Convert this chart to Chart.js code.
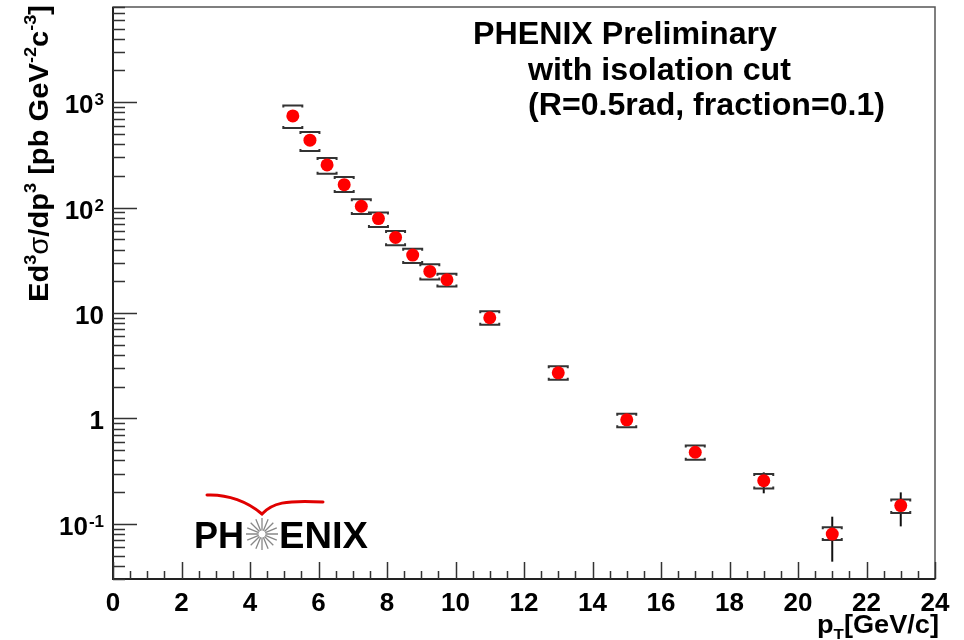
<!DOCTYPE html>
<html>
<head>
<meta charset="utf-8">
<script src="https://cdn.jsdelivr.net/npm/chart.js@4.4.0/dist/chart.umd.min.js"></script>
<style>
    html, body { margin: 0; padding: 0; background: #fff; }
    canvas { display: block; }
</style>
</head>
<body>
<canvas id="spectrum" width="964" height="640"></canvas>
<script>
// isolated photon spectrum, pT bin centres [GeV/c]
const ptCenters = [5.25, 5.75, 6.25, 6.75, 7.25, 7.75, 8.25, 8.75, 9.25, 9.75, 11, 13, 15, 17, 19, 21, 23];
// Ed3sigma/dp3 [pb GeV^-2 c^-3]
const crossSection = [741, 436, 254, 165, 103, 78.7, 52.2, 35.5, 24.8, 20.7, 9.02, 2.71, 0.970, 0.478, 0.257, 0.080, 0.149];
// systematic band (bracket caps)
const sysUpper = [931, 522, 296, 195, 120, 89.7, 60.0, 40.8, 29.0, 23.6, 10.4, 3.13, 1.106, 0.553, 0.298, 0.0927, 0.170];
const sysLower = [570, 345, 210, 141, 87, 65.5, 43.9, 29.8, 20.8, 17.9, 7.74, 2.33, 0.825, 0.405, 0.217, 0.0703, 0.127];
// statistical errors (vertical lines)
const statUpper = [800, 470, 270, 176, 110, 84, 56, 38, 26.8, 22.3, 9.7, 2.95, 1.06, 0.53, 0.308, 0.117, 0.199];
const statLower = [685, 405, 238, 154, 96, 73.5, 48.5, 33, 22.9, 19.2, 8.35, 2.48, 0.88, 0.43, 0.195, 0.0438, 0.0947];

const xTickValues = [0, 2, 4, 6, 8, 10, 12, 14, 16, 18, 20, 22, 24];
const yTickValues = [0.1, 1, 10, 100, 1000];
const yTickLabels = ['10^-1', '1', '10', '10^2', '10^3'];

const FONT = '"Liberation Sans", Arial, sans-serif';

function fontFor(part, size) {
    const sz = (part.sup || part.sub) ? size * 0.62 : size;
    return (part.normal ? '' : 'bold ') + sz.toFixed(1) + 'px ' + FONT;
}

// draws text made of parts (sup/sub aware); stretched to fit width if given
function drawRich(ctx, parts, x, y, size, width, align) {
    let natural = 0;
    parts.forEach(p => { ctx.font = fontFor(p, size); natural += ctx.measureText(p.t).width; });
    const sx = width ? width / natural : 1;
    ctx.save();
    ctx.translate(x, y);
    ctx.scale(sx, 1);
    let cx = align === 'right' ? -natural : align === 'center' ? -natural / 2 : 0;
    ctx.textAlign = 'left';
    ctx.textBaseline = 'alphabetic';
    parts.forEach(p => {
        ctx.font = fontFor(p, size);
        const dy = p.sup ? -size * 0.42 : p.sub ? size * 0.25 : 0;
        ctx.fillText(p.t, cx, dy);
        cx += ctx.measureText(p.t).width;
    });
    ctx.restore();
}

function labelParts(s) {
    const bits = s.split('^');
    return bits.length > 1 ? [{ t: bits[0] }, { t: bits[1], sup: true }] : [{ t: s }];
}

const errorBars = {
    id: 'errorBars',
    beforeDatasetsDraw(chart) {
        const { ctx, scales: { x, y } } = chart;
        ctx.save();
        ctx.lineWidth = 2;
        ptCenters.forEach((pt, i) => {
            const px = x.getPixelForValue(pt);
            // stat
            ctx.strokeStyle = '#111';
            ctx.beginPath();
            ctx.moveTo(px, y.getPixelForValue(statLower[i]));
            ctx.lineTo(px, y.getPixelForValue(statUpper[i]));
            ctx.stroke();
            // sys brackets
            ctx.strokeStyle = '#333';
            const hw = 9.5;
            const top = y.getPixelForValue(sysUpper[i]);
            const bot = y.getPixelForValue(sysLower[i]);
            ctx.beginPath();
            ctx.moveTo(px - hw, top + 2); ctx.lineTo(px - hw, top); ctx.lineTo(px + hw, top); ctx.lineTo(px + hw, top + 2);
            ctx.moveTo(px - hw, bot - 2); ctx.lineTo(px - hw, bot); ctx.lineTo(px + hw, bot); ctx.lineTo(px + hw, bot - 2);
            ctx.stroke();
        });
        ctx.restore();
    }
};

const rootFrame = {
    id: 'rootFrame',
    afterDraw(chart) {
        const { ctx, chartArea: a, scales: { x, y } } = chart;
        ctx.save();

        // frame
        ctx.strokeStyle = '#555';
        ctx.lineWidth = 1.5;
        ctx.strokeRect(a.left, a.top, a.right - a.left, a.bottom - a.top);
        ctx.strokeStyle = '#222';
        ctx.lineWidth = 2;
        ctx.beginPath();
        ctx.moveTo(a.left, a.top); ctx.lineTo(a.left, a.bottom); ctx.lineTo(a.right, a.bottom);
        ctx.stroke();

        // x ticks (inward)
        ctx.strokeStyle = '#333';
        ctx.lineWidth = 1.5;
        ctx.beginPath();
        for (let v = x.min; v <= x.max + 1e-9; v += 0.5) {
            const px = Math.round(x.getPixelForValue(v)) + 0.5;
            const len = Math.abs(v % 2) < 1e-9 ? 17 : 8;
            ctx.moveTo(px, a.bottom); ctx.lineTo(px, a.bottom - len);
        }
        // y ticks (inward)
        for (let d = -2; d <= 3; d++) {
            for (let m = 1; m <= 9; m++) {
                const v = m * Math.pow(10, d);
                if (v < y.min || v > y.max) continue;
                const py = Math.round(y.getPixelForValue(v)) + 0.5;
                const len = m === 1 ? 24 : 12;
                ctx.moveTo(a.left, py); ctx.lineTo(a.left + len, py);
            }
        }
        ctx.stroke();

        // tick labels
        ctx.fillStyle = '#000';
        xTickValues.forEach(v => {
            drawRich(ctx, [{ t: String(v) }], x.getPixelForValue(v), 611, 26, 0, 'center');
        });
        yTickValues.forEach((v, i) => {
            const parts = labelParts(yTickLabels[i]);
            const py = y.getPixelForValue(v);
            ctx.font = 'bold 17px ' + FONT;
            if (parts.length > 1) {
                const wSup = ctx.measureText(parts[1].t).width;
                drawRich(ctx, [parts[0]], 104 - wSup - 1, py + 11, 26, 0, 'right');
                ctx.font = 'bold 17px ' + FONT;
                ctx.textAlign = 'right';
                ctx.fillText(parts[1].t, 104, py + 3);
            } else {
                drawRich(ctx, parts, 104, py + 11, 26, 0, 'right');
            }
        });

        // axis titles
        drawRich(ctx, [{ t: 'p' }, { t: 'T', sub: true }, { t: '[GeV/c]' }], 939, 633, 25, 122, 'right');
        ctx.save();
        ctx.translate(48, 302);
        ctx.rotate(-Math.PI / 2);
        drawRich(ctx, [
            { t: 'Ed' }, { t: '3', sup: true }, { t: 'σ', normal: true }, { t: '/dp' }, { t: '3', sup: true },
            { t: ' [pb GeV' }, { t: '-2', sup: true }, { t: 'c' }, { t: '-3', sup: true }, { t: ']' }
        ], 0, 0, 28, 297, 'left');
        ctx.restore();

        // annotation
        drawRich(ctx, [{ t: 'PHENIX Preliminary' }], 473, 44, 31, 304, 'left');
        drawRich(ctx, [{ t: 'with isolation cut' }], 528, 80, 31, 263, 'left');
        drawRich(ctx, [{ t: '(R=0.5rad, fraction=0.1)' }], 528, 115, 31, 357, 'left');

        // PHENIX logo
        drawRich(ctx, [{ t: 'PH' }], 194, 548, 36, 50, 'left');
        drawRich(ctx, [{ t: 'ENIX' }], 279, 548, 36, 89, 'left');
        const sx = 262, sy = 534;
        ctx.strokeStyle = '#888';
        ctx.lineWidth = 1.3;
        ctx.beginPath();
        for (let k = 0; k < 16; k++) {
            const ang = k * Math.PI / 8;
            ctx.moveTo(sx + Math.cos(ang) * 3.5, sy + Math.sin(ang) * 3.5);
            ctx.lineTo(sx + Math.cos(ang) * 16, sy + Math.sin(ang) * 16);
        }
        ctx.stroke();
        ctx.strokeStyle = '#e00000';
        ctx.lineWidth = 3;
        ctx.lineCap = 'round';
        ctx.beginPath();
        ctx.moveTo(207, 495);
        ctx.bezierCurveTo(228, 494, 248, 502, 262, 514);
        ctx.bezierCurveTo(272, 503, 285, 500, 323, 502);
        ctx.stroke();

        ctx.restore();
    }
};

new Chart(document.getElementById('spectrum').getContext('2d'), {
    type: 'scatter',
    data: {
        datasets: [{
            data: ptCenters.map((pt, i) => ({ x: pt, y: crossSection[i] })),
            pointRadius: 6.5,
            pointHoverRadius: 6.5,
            pointBackgroundColor: '#ff0000',
            pointBorderWidth: 0,
            showLine: false
        }]
    },
    options: {
        responsive: false,
        animation: false,
        layout: { padding: { top: 7, right: 29, left: 0, bottom: 0 } },
        plugins: { legend: { display: false }, tooltip: { enabled: false } },
        scales: {
            x: {
                type: 'linear', min: 0, max: 24,
                grid: { display: false }, border: { display: false }, ticks: { display: false },
                afterFit: s => { s.height = 61; }
            },
            y: {
                type: 'logarithmic', min: 0.03, max: 8000,
                grid: { display: false }, border: { display: false }, ticks: { display: false },
                afterFit: s => { s.width = 113; }
            }
        }
    },
    plugins: [errorBars, rootFrame]
});
</script>
</body>
</html>
